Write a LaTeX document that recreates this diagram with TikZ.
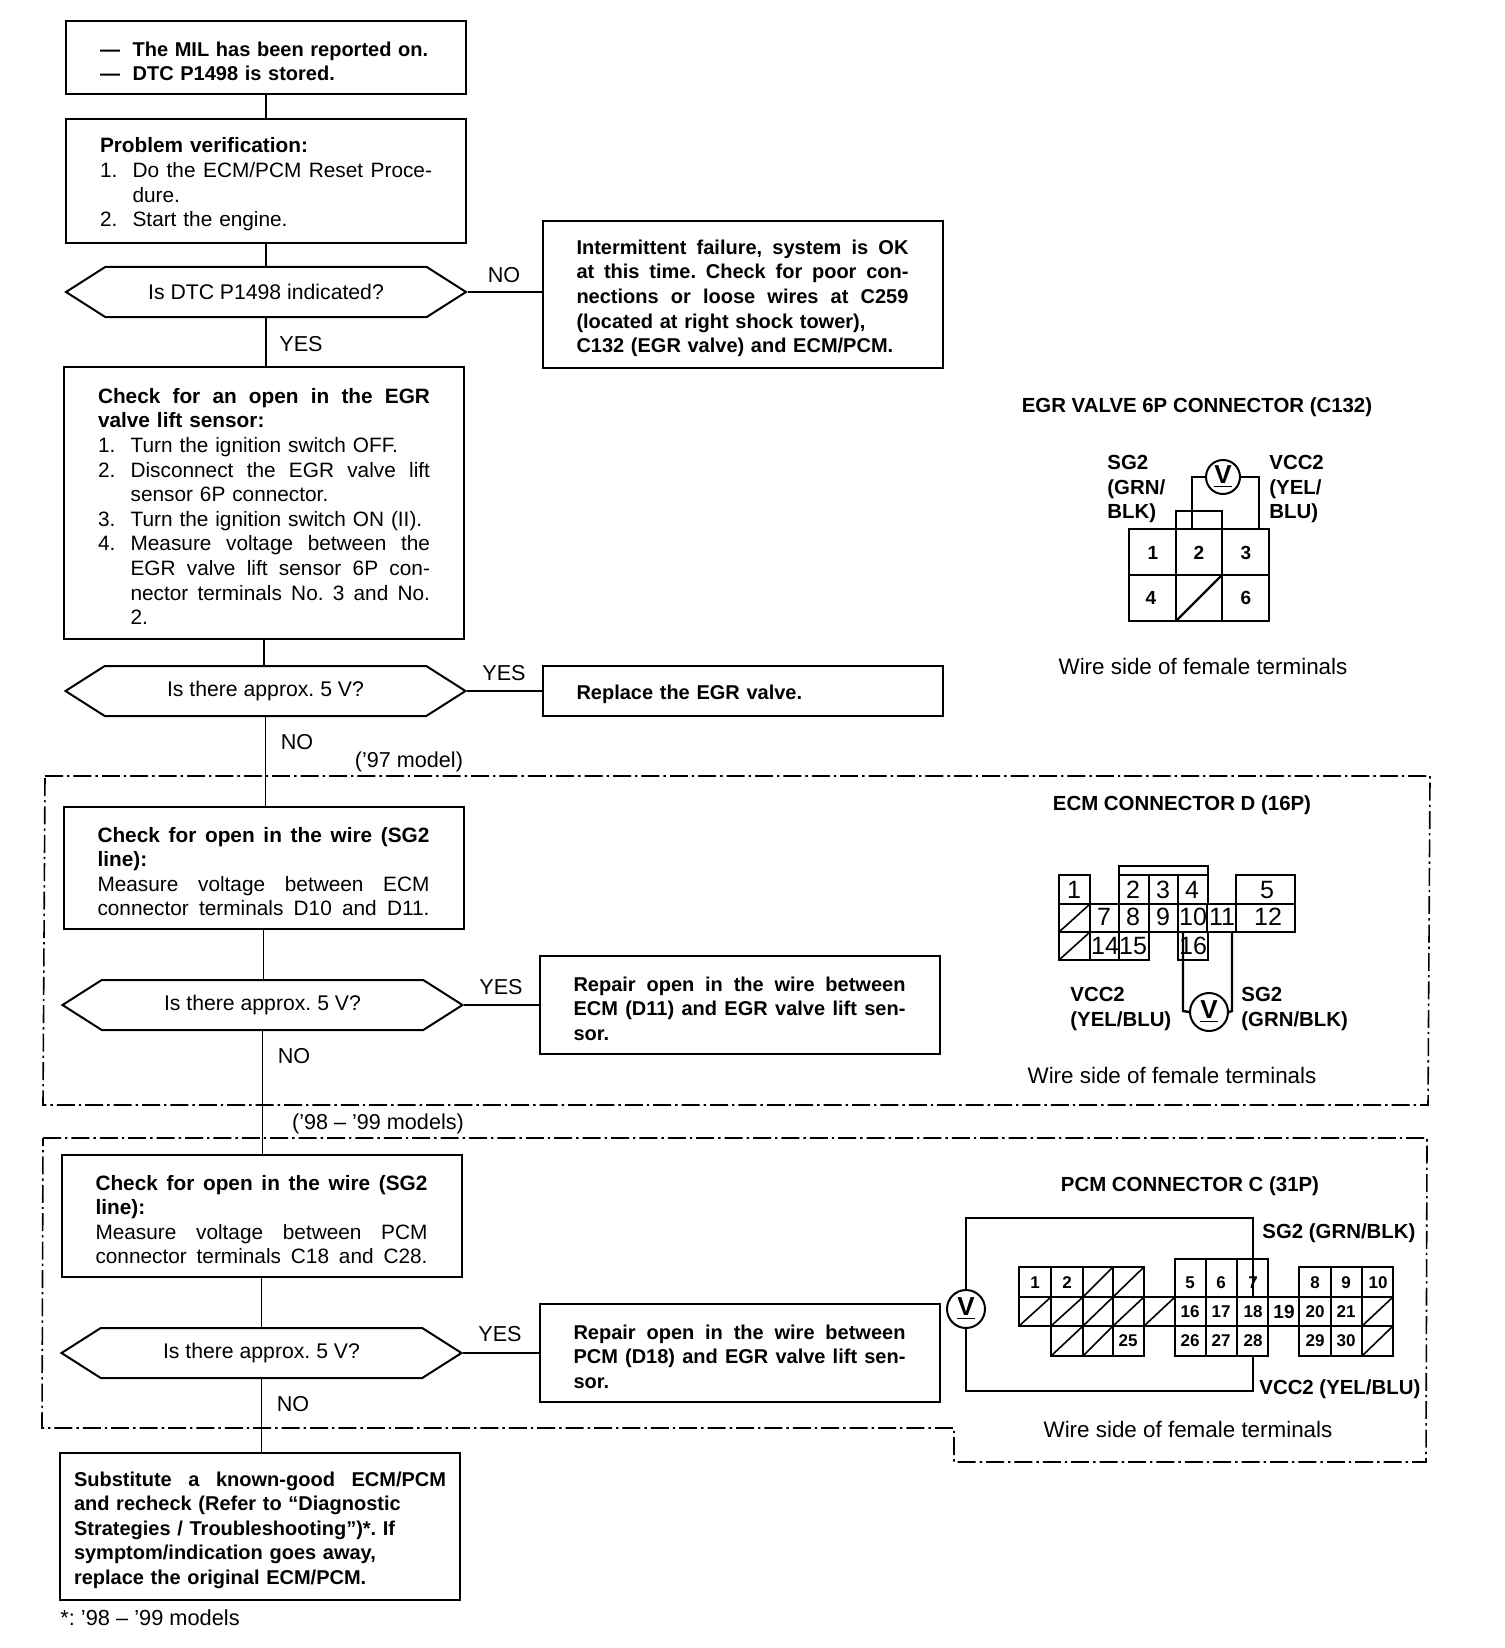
\documentclass[tikz,border=0pt]{standalone}
\usepackage{fontspec}
\setmainfont{Liberation Sans}
\usetikzlibrary{shapes.symbols}
\newcommand{\jl}[1]{\makebox[\hsize][s]{\spaceskip=0pt\relax\xspaceskip=0pt\relax #1}}
\newcommand{\itm}[1]{\makebox[16.3pt][l]{#1}}
\newcommand{\idt}{\hspace*{16.3pt}}
\frenchspacing
\tikzset{
    fc_box/.style={font=\fontsize{10.4}{12.3}\selectfont, draw=black, line width=1pt, text width=166pt, inner xsep=17pt, inner ysep=0pt, align=left, execute at begin node={\rule{0pt}{11pt}}},
    bold_box/.style={fc_box, font=\bfseries\fontsize{10}{12.3}\selectfont},
    wide_box/.style={bold_box, text width=186pt, inner xsep=7pt},
    hex_node/.style={font=\fontsize{10.6}{12.3}\selectfont, draw=black, line width=1pt, signal, signal to=east and west, signal pointer angle=65, minimum width=200pt, minimum height=25pt, inner sep=0pt},
    flow_line/.style={line width=0.9pt, draw=black},
    zone_line/.style={line width=0.8pt, draw=black, dash pattern={on 9pt off 2pt on 1.2pt off 2pt}},
    tag_text/.style={font=\fontsize{10.8}{12.3}\selectfont, inner sep=0pt},
    plug_title/.style={font=\bfseries\fontsize{10.2}{12}\selectfont, inner sep=0pt},
    wire_text/.style={font=\bfseries\fontsize{10.2}{12.35}\selectfont, inner sep=0pt, align=left, anchor=west},
    side_text/.style={font=\fontsize{11.2}{12.3}\selectfont, inner sep=0pt},
    v_meter/.style={circle, draw=black, line width=1pt, minimum size=19pt, inner sep=0pt, fill=white, font=\bfseries\fontsize{13}{13}\selectfont},
    plug_out/.style={line width=1.4pt, draw=black, line join=miter},
    plug_grid/.style={line width=0.6pt, draw=black},
    plug_diag/.style={line width=0.8pt, draw=black},
    wire_line/.style={line width=1.2pt, draw=black},
    pin_egr/.style={font=\bfseries\fontsize{9.5}{10}\selectfont, inner sep=0pt},
    pin_ecm/.style={font=\fontsize{12.5}{13}\selectfont, inner sep=0pt},
    pin_pcm/.style={font=\bfseries\fontsize{8.5}{9}\selectfont, inner sep=0pt}
}
\begin{document}
\begin{tikzpicture}[x=0.5pt, y=-0.5pt]
    \useasboundingbox (0,0) rectangle (1504,1648);
    \fill[white] (0,0) rectangle (1504,1648);

    \node[bold_box, minimum height=36.5pt] (boxmil) at (266,57.5) {%
        \itm{---}The MIL has been reported on.\\
        \itm{---}DTC P1498 is stored.};
    \node[fc_box, minimum height=62pt] (boxverify) at (266,181) {\textbf{Problem verification:}\\
        \jl{\itm{1.}Do the ECM/PCM Reset Proce-}\\
        \idt dure.\\
        \itm{2.}Start the engine.};
    \node[hex_node] (hexdtc) at (266,292) {Is DTC P1498 indicated?};
    \node[bold_box, minimum height=73.5pt] (boxfail) at (742.5,294.5) {%
        \jl{Intermittent failure, system is OK}\\
        \jl{at this time. Check for poor con-}\\
        \jl{nections or loose wires at C259}\\
        (located at right shock tower),\\
        C132 (EGR valve) and ECM/PCM.};
    \node[fc_box, minimum height=136pt] (boxsensor) at (264,503) {\jl{\bfseries Check for an open in the EGR}\\
        \textbf{valve lift sensor:}\\
        \itm{1.}Turn the ignition switch OFF.\\
        \jl{\itm{2.}Disconnect the EGR valve lift}\\
        \idt sensor 6P connector.\\
        \itm{3.}Turn the ignition switch ON (II).\\
        \jl{\itm{4.}Measure voltage between the}\\
        \jl{\idt EGR valve lift sensor 6P con-}\\
        \jl{\idt nector terminals No. 3 and No.}\\
        \idt 2.};
    \node[hex_node] (hexvolt) at (265.5,691) {Is there approx. 5 V?};
    \node[bold_box, minimum height=25pt] (boxreplace) at (742.5,691) {Replace the EGR valve.};
    \node[fc_box, minimum height=61pt] (boxecm) at (263.5,868) {\jl{\bfseries Check for open in the wire (SG2}\\
        \textbf{line):}\\
        \jl{Measure voltage between ECM}\\
        \jl{connector terminals D10 and D11.}};
    \node[hex_node] (hexecm) at (262.5,1005) {Is there approx. 5 V?};
    \node[bold_box, minimum height=49pt] (boxopenecm) at (739.5,1005) {%
        \jl{Repair open in the wire between}\\
        \jl{ECM (D11) and EGR valve lift sen-}\\
        sor.};
    \node[fc_box, minimum height=61pt] (boxpcm) at (261.5,1216) {\jl{\bfseries Check for open in the wire (SG2}\\
        \textbf{line):}\\
        \jl{Measure voltage between PCM}\\
        \jl{connector terminals C18 and C28.}};
    \node[hex_node] (hexpcm) at (261.5,1353) {Is there approx. 5 V?};
    \node[bold_box, minimum height=49pt] (boxopenpcm) at (739.5,1353) {%
        \jl{Repair open in the wire between}\\
        \jl{PCM (D18) and EGR valve lift sen-}\\
        sor.};
    \node[wide_box, minimum height=73.5pt] (boxsub) at (260,1526.5) {%
        \jl{Substitute a known-good ECM/PCM}\\
        and recheck (Refer to “Diagnostic\\
        Strategies / Troubleshooting”)*. If\\
        symptom/indication goes away,\\
        replace the original ECM/PCM.};
    \node[side_text, anchor=west, font=\fontsize{10.9}{12.3}\selectfont] (notemodels) at (60,1618) {*: ’98 -- ’99 models};

    \draw[flow_line] (boxmil.south) -- (boxverify.north);
    \draw[flow_line] (boxverify.south) -- (hexdtc.north);
    \draw[flow_line] (hexdtc.south) -- (hexdtc.south |- boxsensor.north);
    \draw[flow_line] (boxsensor.south) -- (boxsensor.south |- hexvolt.north);
    \draw[flow_line] (hexvolt.south) -- (hexvolt.south |- boxecm.north);
    \draw[flow_line] (boxecm.south) -- (boxecm.south |- hexecm.north);
    \draw[flow_line] (hexecm.south) -- (hexecm.south |- boxpcm.north);
    \draw[flow_line] (boxpcm.south) -- (boxpcm.south |- hexpcm.north);
    \draw[flow_line] (hexpcm.south) -- (hexpcm.south |- boxsub.north);
    \draw[flow_line] (hexdtc.east) -- (hexdtc.east -| boxfail.west);
    \draw[flow_line] (hexvolt.east) -- (hexvolt.east -| boxreplace.west);
    \draw[flow_line] (hexecm.east) -- (hexecm.east -| boxopenecm.west);
    \draw[flow_line] (hexpcm.east) -- (hexpcm.east -| boxopenpcm.west);

    \node[tag_text] (tagno) at (504,275) {NO};
    \node[tag_text] (tagyes) at (301,344) {YES};
    \node[tag_text] (tagyesb) at (504,673) {YES};
    \node[tag_text] (tagnob) at (297,742) {NO};
    \node[tag_text] (tagyesc) at (501,987) {YES};
    \node[tag_text] (tagnoc) at (294,1056) {NO};
    \node[tag_text] (tagyesd) at (500,1334) {YES};
    \node[tag_text] (tagnod) at (293,1404) {NO};
    \node[tag_text] (tagone) at (409,762) {(’97 model)};
    \node[tag_text] (tagtwo) at (378,1124) {(’98 -- ’99 models)};

    \draw[zone_line] (45,776) -- (1430,776) -- (1428,1105) -- (43,1105) -- cycle;
    \draw[zone_line] (43,1138) -- (1427,1138) -- (1426,1462) -- (954,1462) -- (954,1428) -- (42,1428) -- cycle;

    \node[plug_title] (titleegr) at (1197,407) {EGR VALVE 6P CONNECTOR (C132)};
    \node[wire_text] (egrsg) at (1107,489) {SG2\\(GRN/\\BLK)};
    \node[wire_text] (egrvcc) at (1269,489) {VCC2\\(YEL/\\BLU)};
    \draw[plug_grid] (1129,575) -- (1269,575);
    \draw[plug_grid] (1176,529) -- (1176,621);
    \draw[plug_grid] (1222,529) -- (1222,621);
    \draw[plug_out] (1129,529) rectangle (1269,621);
    \draw[plug_out] (1176,529) -- (1176,511) -- (1222,511) -- (1222,529);
    \draw[plug_diag, line width=1.2pt] (1176,621) -- (1222,575);
    \foreach \px/\py/\lab in {1153/553/1, 1199/553/2, 1246/553/3, 1151/598/4, 1246/598/6}
        \node[pin_egr] (egrpin\lab) at (\px,\py) {\lab};
    \node[v_meter, minimum size=17pt] (vegr) at (1223,477) {\underline{V}};
    \draw[wire_line] (vegr.west) -- (1192,477) -- (1192,529);
    \draw[wire_line] (vegr.east) -- (1259,477) -- (1259,529);
    \node[side_text] (sideegr) at (1203,666) {Wire side of female terminals};

    \node[plug_title] (titleecm) at (1182,805) {ECM CONNECTOR D (16P)};
    \draw[plug_grid] (1059,904) -- (1295,904);
    \draw[plug_grid] (1119,875) -- (1208,875);
    \foreach \lx/\ty/\by in {1090/904/960, 1119/904/960, 1149/875/932, 1178/875/932, 1207/904/932, 1236/904/932}
        \draw[plug_grid] (\lx,\ty) -- (\lx,\by);
    \draw[plug_grid] (1059,932) -- (1149,932);
    \draw[plug_grid] (1178,932) -- (1208,932);
    \draw[plug_out] (1059,875) -- (1090,875) -- (1090,904) -- (1119,904) -- (1119,866) -- (1208,866) -- (1208,904) -- (1236,904) -- (1236,875) -- (1295,875) -- (1295,932) -- (1208,932) -- (1208,960) -- (1178,960) -- (1178,932) -- (1149,932) -- (1149,960) -- (1059,960) -- cycle;
    \draw[plug_diag] (1059,932) -- (1090,904);
    \draw[plug_diag] (1059,960) -- (1090,932);
    \foreach \px/\py/\lab in {1074/890/1, 1133/890/2, 1163/890/3, 1192/890/4, 1267/890/5, 1104/917/7, 1133/917/8, 1163/917/9, 1193/917/10, 1222/917/11, 1268/917/12, 1105/946/14, 1133/946/15, 1193/946/16}
        \node[pin_ecm] (ecmpin\lab) at (\px,\py) {\lab};
    \node[v_meter] (vecm) at (1209,1012) {\underline{V}};
    \draw[wire_line] (vecm.west) -- (1183,1011) -- (1183,932);
    \draw[wire_line] (vecm.east) -- (1232,1011) -- (1232,932);
    \node[wire_text] (ecmvcc) at (1070,1009) {VCC2\\(YEL/BLU)};
    \node[wire_text] (ecmsg) at (1241,1009) {SG2\\(GRN/BLK)};
    \node[side_text] (sideecm) at (1172,1075) {Wire side of female terminals};

    \node[plug_title] (titlepcm) at (1190,1186) {PCM CONNECTOR C (31P)};
    \foreach \lx/\ty/\by in {1051/1267/1356, 1083/1267/1356, 1113/1267/1356, 1144/1297/1326, 1175/1297/1326, 1206/1259/1356, 1237/1259/1356, 1268/1297/1326, 1299/1297/1326, 1331/1267/1356, 1362/1267/1356}
        \draw[plug_grid] (\lx,\ty) -- (\lx,\by);
    \foreach \ly in {1297, 1326}
        \draw[plug_grid] (1019,\ly) -- (1393,\ly);
    \draw[plug_out] (1019,1267) -- (1144,1267) -- (1144,1297) -- (1175,1297) -- (1175,1259) -- (1268,1259) -- (1268,1297) -- (1299,1297) -- (1299,1267) -- (1393,1267) -- (1393,1356) -- (1299,1356) -- (1299,1326) -- (1268,1326) -- (1268,1356) -- (1175,1356) -- (1175,1326) -- (1144,1326) -- (1144,1356) -- (1051,1356) -- (1051,1326) -- (1019,1326) -- cycle;
    \foreach \dx/\dy/\ex/\ey in {1083/1297/1113/1267, 1113/1297/1144/1267, 1019/1326/1051/1297, 1051/1326/1083/1297, 1083/1326/1113/1297, 1113/1326/1144/1297, 1144/1326/1175/1297, 1051/1356/1083/1326, 1083/1356/1113/1326, 1362/1326/1393/1297, 1362/1356/1393/1326}
        \draw[plug_diag] (\dx,\dy) -- (\ex,\ey);
    \foreach \px/\py/\lab in {1035/1283/1, 1067/1283/2, 1128/1341/25, 1190/1283/5, 1221/1283/6, 1253/1283/7, 1190/1312/16, 1221/1312/17, 1253/1312/18, 1190/1341/26, 1221/1341/27, 1253/1341/28, 1315/1283/8, 1346/1283/9, 1378/1283/10, 1315/1312/20, 1346/1312/21, 1315/1341/29, 1346/1341/30}
        \node[pin_pcm] (pcmpin\lab) at (\px,\py) {\lab};
    \node[pin_pcm, font=\bfseries\fontsize{9.5}{10}\selectfont] (pcmpin19) at (1284,1312) {19};
    \node[v_meter] (vpcm) at (966,1309) {\underline{V}};
    \draw[wire_line] (vpcm.north) -- (966,1218) -- (1253,1218) -- (1253,1297);
    \draw[wire_line] (vpcm.south) -- (966,1391) -- (1253,1391) -- (1253,1356);
    \node[wire_text] (pcmsg) at (1262,1233) {SG2 (GRN/BLK)};
    \node[wire_text] (pcmvcc) at (1259,1389) {VCC2 (YEL/BLU)};
    \node[side_text] (sidepcm) at (1188,1429) {Wire side of female terminals};
\end{tikzpicture}
\end{document}
